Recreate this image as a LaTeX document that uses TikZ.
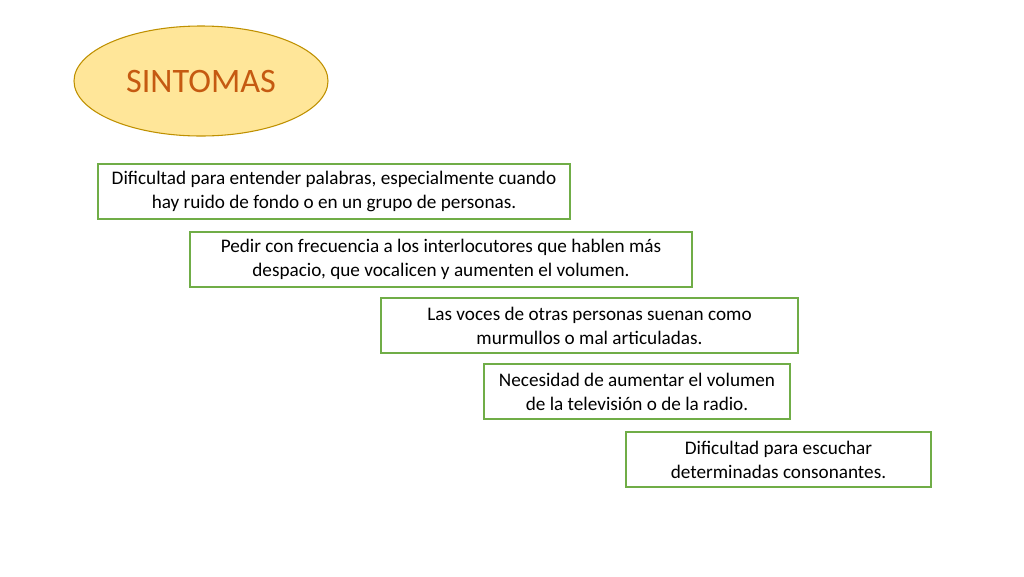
\documentclass[tikz,border=0pt]{standalone}
\usepackage{fontspec}
\setmainfont{Carlito}
\usetikzlibrary{shapes.geometric}
\definecolor{elfill}{HTML}{FFE699}
\definecolor{elline}{HTML}{BF9000}
\definecolor{eltext}{HTML}{C55A11}
\definecolor{boxline}{HTML}{70AD47}
\tikzset{
    sintbox/.style={draw=boxline, thick, align=center, inner sep=0pt, font=\fontsize{14.4}{18}\selectfont},
    title/.style={ellipse, draw=elline, fill=elfill, thick, inner sep=0pt, minimum width=254*0.75pt, minimum height=110*0.75pt, text=eltext, font=\fontsize{25.7}{28}\selectfont}
}
\begin{document}
\begin{tikzpicture}[x=0.75pt, y=-0.75pt]
    \useasboundingbox (0,0) rectangle (1024,576);

    \node [title] (sint) at (201, 81) {SINTOMAS};

    \node [sintbox, minimum width=472*0.75pt, minimum height=55*0.75pt] (s1) at (334, 191.5)
        {Dificultad para entender palabras, especialmente cuando\\hay ruido de fondo o en un grupo de personas.};
    \node [sintbox, minimum width=502*0.75pt, minimum height=55*0.75pt] (s2) at (441, 259.5)
        {Pedir con frecuencia a los interlocutores que hablen más\\despacio, que vocalicen y aumenten el volumen.};
    \node [sintbox, minimum width=417*0.75pt, minimum height=55*0.75pt] (s3) at (589.5, 325.5)
        {Las voces de otras personas suenan como\\murmullos o mal articuladas.};
    \node [sintbox, minimum width=306*0.75pt, minimum height=55*0.75pt] (s4) at (637, 391.5)
        {Necesidad de aumentar el volumen\\de la televisión o de la radio.};
    \node [sintbox, minimum width=305*0.75pt, minimum height=55*0.75pt] (s5) at (778.5, 459.5)
        {Dificultad para escuchar\\determinadas consonantes.};
\end{tikzpicture}
\end{document}
